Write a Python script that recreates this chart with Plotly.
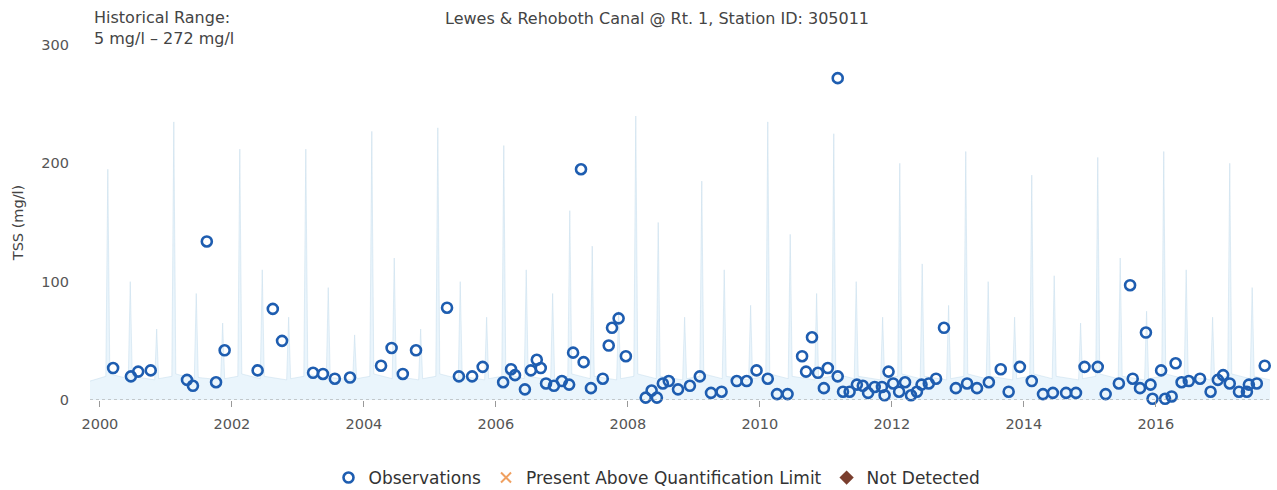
import plotly.graph_objects as go

# Observations: decimal year, TSS (mg/l)
obs_year = [2000.20, 2000.47, 2000.58, 2000.77, 2001.32, 2001.41, 2001.62, 2001.76, 2001.89,
            2002.39, 2002.62, 2002.76, 2003.23, 2003.38, 2003.56, 2003.79, 2004.26, 2004.42,
            2004.59, 2004.79, 2005.26, 2005.44, 2005.64, 2005.80, 2006.11, 2006.23, 2006.29,
            2006.44, 2006.53, 2006.62, 2006.68, 2006.76, 2006.88, 2007.00, 2007.11, 2007.17,
            2007.29, 2007.33, 2007.44, 2007.62, 2007.71, 2007.76, 2007.86, 2007.97, 2008.27,
            2008.36, 2008.44, 2008.53, 2008.62, 2008.76, 2008.94, 2009.09, 2009.26, 2009.42,
            2009.65, 2009.80, 2009.95, 2010.12, 2010.26, 2010.42, 2010.64, 2010.70, 2010.79,
            2010.88, 2010.97, 2011.03, 2011.18, 2011.18, 2011.26, 2011.36, 2011.47, 2011.56,
            2011.64, 2011.74, 2011.85, 2011.89, 2011.95, 2012.02, 2012.11, 2012.20, 2012.29,
            2012.38, 2012.45, 2012.56, 2012.67, 2012.79, 2012.97, 2013.14, 2013.29, 2013.47,
            2013.65, 2013.77, 2013.94, 2014.12, 2014.29, 2014.44, 2014.64, 2014.79, 2014.92,
            2015.12, 2015.24, 2015.44, 2015.61, 2015.65, 2015.76, 2015.85, 2015.92, 2015.95,
            2016.08, 2016.14, 2016.24, 2016.30, 2016.39, 2016.50, 2016.67, 2016.83, 2016.94,
            2017.02, 2017.12, 2017.26, 2017.38, 2017.41, 2017.53, 2017.65]
obs_tss = [27, 20, 24, 25, 17, 12, 134, 15, 42,
           25, 77, 50, 23, 22, 18, 19, 29, 44,
           22, 42, 78, 20, 20, 28, 15, 26, 21,
           9, 25, 34, 27, 14, 12, 16, 13, 40,
           195, 32, 10, 18, 46, 61, 69, 37, 2,
           8, 2, 14, 16, 9, 12, 20, 6, 7,
           16, 16, 25, 18, 5, 5, 37, 24, 53,
           23, 10, 27, 20, 272, 7, 7, 13, 12,
           6, 11, 11, 4, 24, 14, 7, 15, 4,
           7, 13, 14, 18, 61, 10, 14, 10, 15,
           26, 7, 28, 16, 5, 6, 6, 6, 28,
           28, 5, 14, 97, 18, 10, 57, 13, 1,
           25, 1, 3, 31, 15, 16, 18, 7, 17,
           21, 14, 7, 7, 13, 14, 29]

# Background (faint) series
bg_year = [1999.85, 2000.09, 2000.12, 2000.15, 2000.43, 2000.46, 2000.49, 2000.83, 2000.86, 2000.89,
           2001.09, 2001.12, 2001.15, 2001.43, 2001.46, 2001.49, 2001.83, 2001.86, 2001.89,
           2002.09, 2002.12, 2002.15, 2002.43, 2002.46, 2002.49, 2002.83, 2002.86, 2002.89,
           2003.09, 2003.12, 2003.15, 2003.43, 2003.46, 2003.49, 2003.83, 2003.86, 2003.89,
           2004.09, 2004.12, 2004.15, 2004.43, 2004.46, 2004.49, 2004.83, 2004.86, 2004.89,
           2005.09, 2005.12, 2005.15, 2005.43, 2005.46, 2005.49, 2005.83, 2005.86, 2005.89,
           2006.09, 2006.12, 2006.15, 2006.43, 2006.46, 2006.49, 2006.83, 2006.86, 2006.89,
           2007.09, 2007.12, 2007.15, 2007.43, 2007.46, 2007.49, 2007.83, 2007.86, 2007.89,
           2008.09, 2008.12, 2008.15, 2008.43, 2008.46, 2008.49, 2008.83, 2008.86, 2008.89,
           2009.09, 2009.12, 2009.15, 2009.43, 2009.46, 2009.49, 2009.83, 2009.86, 2009.89,
           2010.09, 2010.12, 2010.15, 2010.43, 2010.46, 2010.49, 2010.83, 2010.86, 2010.89,
           2011.09, 2011.12, 2011.15, 2011.43, 2011.46, 2011.49, 2011.83, 2011.86, 2011.89,
           2012.09, 2012.12, 2012.15, 2012.43, 2012.46, 2012.49, 2012.83, 2012.86, 2012.89,
           2013.09, 2013.12, 2013.15, 2013.43, 2013.46, 2013.49, 2013.83, 2013.86, 2013.89,
           2014.09, 2014.12, 2014.15, 2014.43, 2014.46, 2014.49, 2014.83, 2014.86, 2014.89,
           2015.09, 2015.12, 2015.15, 2015.43, 2015.46, 2015.49, 2015.83, 2015.86, 2015.89,
           2016.09, 2016.12, 2016.15, 2016.43, 2016.46, 2016.49, 2016.83, 2016.86, 2016.89,
           2017.09, 2017.12, 2017.15, 2017.43, 2017.46, 2017.49, 2017.73]
bg_tss = [16, 20, 195, 22, 18, 100, 20, 17, 60, 18,
          20, 235, 22, 18, 90, 19, 17, 65, 18,
          20, 212, 22, 18, 110, 20, 17, 70, 18,
          20, 212, 22, 18, 95, 19, 17, 55, 18,
          20, 227, 22, 18, 120, 20, 17, 60, 18,
          20, 230, 22, 18, 100, 20, 17, 70, 18,
          20, 215, 22, 18, 110, 20, 17, 90, 18,
          20, 160, 22, 18, 130, 20, 17, 75, 18,
          20, 240, 22, 18, 150, 20, 17, 70, 18,
          20, 185, 22, 18, 110, 20, 17, 80, 18,
          20, 235, 22, 18, 140, 20, 17, 90, 18,
          20, 225, 22, 18, 100, 20, 17, 70, 18,
          20, 200, 22, 18, 115, 20, 17, 80, 18,
          20, 210, 22, 18, 100, 20, 17, 70, 18,
          20, 190, 22, 18, 105, 20, 17, 65, 18,
          20, 205, 22, 18, 120, 20, 17, 75, 18,
          20, 210, 22, 18, 110, 20, 17, 70, 18,
          20, 200, 22, 18, 95, 20, 17]

tick_years = [2000, 2002, 2004, 2006, 2008, 2010, 2012, 2014, 2016]
tick_labels = [str(t) for t in tick_years]
y_ticks = [0, 100, 200, 300]

title_text = "Lewes & Rehoboth Canal @ Rt. 1, Station ID: 305011"
range_text = "Historical Range:<br>5 mg/l – 272 mg/l"

FONT = "DejaVu Sans, sans-serif"
BLUE = "#1e5db0"
L, R, T, B = 90, 7, 45, 90
W_plot = 1277 - L - R
H_plot = 490 - T - B

fig = go.Figure()

fig.add_trace(go.Scatter(
    x=bg_year, y=bg_tss, mode="lines", fill="tozeroy",
    line=dict(color="rgba(195,220,236,0.5)", width=1),
    fillcolor="rgba(205,232,248,0.42)",
    showlegend=False, hoverinfo="skip"))

fig.add_trace(go.Scatter(
    x=obs_year, y=obs_tss, mode="markers", name="Observations",
    marker=dict(symbol="circle-open", size=10, color=BLUE, line=dict(width=2.6, color=BLUE)),
    cliponaxis=False))

fig.add_trace(go.Scatter(
    x=[None], y=[None], mode="markers", name="Present Above Quantification Limit",
    marker=dict(symbol="x-thin-open", size=10, color="#f0a060", line=dict(width=2, color="#f0a060"))))

fig.add_trace(go.Scatter(
    x=[None], y=[None], mode="markers", name="Not Detected",
    marker=dict(symbol="diamond", size=11, color="#7a3e2e")))

fig.update_layout(
    width=1277, height=490,
    margin=dict(l=L, r=R, t=T, b=B, autoexpand=False),
    paper_bgcolor="white", plot_bgcolor="white",
    font=dict(family=FONT, size=14, color="#444"),
    showlegend=True,
    legend=dict(orientation="h", x=(657 - L) / W_plot, xanchor="center",
                y=-(478 - 400) / H_plot, yanchor="middle",
                font=dict(size=17, color="#333"), itemwidth=30,
                traceorder="normal"),
    annotations=[
        dict(text=title_text, x=(657 - L) / W_plot, y=(400 - 18) / H_plot,
             xref="paper", yref="paper", showarrow=False, yanchor="middle",
             font=dict(size=16, color="#444")),
        dict(text=range_text, x=(92 - L) / W_plot, y=(400 - 6) / H_plot,
             xref="paper", yref="paper", showarrow=False,
             align="left", xanchor="left", yanchor="top", font=dict(size=16, color="#444")),
    ],
    shapes=[dict(type="line", xref="paper", yref="y", x0=0, x1=1, y0=0, y1=0,
                 line=dict(color="#9a9a9a", width=1, dash="dot"))],
)

fig.update_xaxes(range=[1999.85, 2017.73], tickvals=tick_years, ticktext=tick_labels,
                 showgrid=False, zeroline=False, showline=False, automargin=False,
                 ticks="outside", ticklen=6, tickcolor="#999", ticklabelstandoff=5,
                 tickfont=dict(size=14.5, color="#555"))
fig.update_yaxes(range=[0, 300], tickvals=y_ticks, showgrid=False, zeroline=False,
                 showline=False, ticks="", ticklabelstandoff=20, automargin=False,
                 title=dict(text="TSS (mg/l)", font=dict(size=14.5, color="#444"), standoff=14),
                 tickfont=dict(size=14.5, color="#555"))

fig.write_html("out.html", config={"displayModeBar": False},
               post_script="document.body.style.margin='0';")
